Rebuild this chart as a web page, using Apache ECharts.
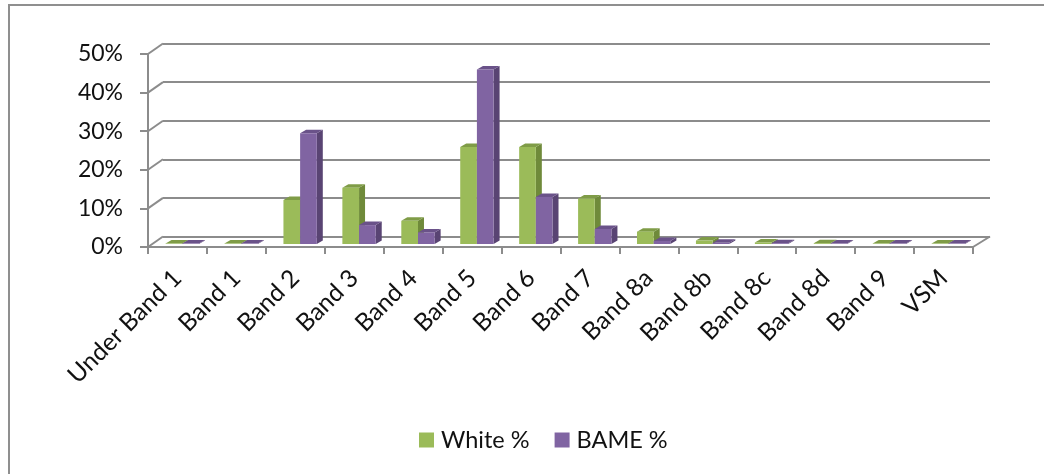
<!DOCTYPE html>
<html>
<head>
<meta charset="utf-8">
<title>Staff by band: White % and BAME %</title>
<script src="https://cdn.jsdelivr.net/npm/echarts@6/dist/echarts.min.js"></script>
<style>
  html, body { margin: 0; padding: 0; background: #ffffff; }
  #chart { width: 1044px; height: 474px; }
</style>
</head>
<body>
<div id="chart"></div>
<script>
// Pay bands and the share of each group in them (%)
const categories = ['Under Band 1', 'Band 1', 'Band 2', 'Band 3', 'Band 4', 'Band 5', 'Band 6',
  'Band 7', 'Band 8a', 'Band 8b', 'Band 8c', 'Band 8d', 'Band 9', 'VSM'];
const whitePct = [0.1, 0.1, 11.4, 14.6, 6.0, 25.1, 25.1, 11.8, 3.2, 0.9, 0.4, 0.2, 0.1, 0.1];
const bamePct  = [0.1, 0.1, 28.7, 4.9, 3.0, 45.2, 12.2, 3.9, 0.8, 0.3, 0.2, 0.1, 0.1, 0.1];
const yTicks = [0, 10, 20, 30, 40, 50];
const seriesNames = ['White %', 'BAME %'];

const FONT = 'Lato';
const LINE = '#8c8c8c';

// Oblique depth of the floor and back wall
const WALL_DX_L = 15, WALL_DX_R = 17, WALL_DY = -10.5;
// Where the bar fronts sit inside that depth, and the bars' own depth
const BAR_DX = 4.8, BAR_DY = -3;
const DEPTH_X = 6, DEPTH_Y = -3.5;

const palette = {
  white: { front: '#9bbb59', side: '#6f8a3a', top: '#7f9c47' },
  bame:  { front: '#8064a2', side: '#594473', top: '#6a5289' }
};

function bar3d(leftOfCentre, c) {
  return function (params, api) {
    const idx = api.value(0);
    const v = api.value(1);
    const base = api.coord([idx, 0]);
    const head = api.coord([idx, v]);
    const w = api.size([1, 0])[0] * 0.283;
    const x0 = base[0] + BAR_DX - (leftOfCentre ? w : 0);
    const x1 = x0 + w;
    const yb = base[1] + BAR_DY;
    const yt = head[1] + BAR_DY;
    return {
      type: 'group',
      children: [
        { type: 'polygon',
          shape: { points: [[x1, yb], [x1 + DEPTH_X, yb + DEPTH_Y], [x1 + DEPTH_X, yt + DEPTH_Y], [x1, yt]] },
          style: { fill: c.side } },
        { type: 'polygon',
          shape: { points: [[x0, yt], [x1, yt], [x1 + DEPTH_X, yt + DEPTH_Y], [x0 + DEPTH_X, yt + DEPTH_Y]] },
          style: { fill: c.top } },
        { type: 'rect',
          shape: { x: x0, y: yt, width: w, height: yb - yt },
          style: { fill: c.front } }
      ]
    };
  };
}

// Diagonals joining the front value axis to the back-wall gridlines
function wallEdges(params, api) {
  const v = api.value(1);
  const y = api.coord([0, v])[1];
  const cs = params.coordSys;
  const children = [{
    type: 'line',
    shape: { x1: cs.x, y1: y, x2: cs.x + WALL_DX_L, y2: y + WALL_DY },
    style: { stroke: LINE, lineWidth: 2 }
  }];
  if (v === 0) {
    children.push({
      type: 'line',
      shape: { x1: cs.x + cs.width, y1: y, x2: cs.x + cs.width + WALL_DX_R, y2: y + WALL_DY },
      style: { stroke: LINE, lineWidth: 2 }
    });
  }
  return { type: 'group', children: children };
}

const chart = echarts.init(document.getElementById('chart'), null, { renderer: 'canvas' });

chart.setOption({
  animation: false,
  backgroundColor: '#ffffff',
  graphic: [{
    type: 'rect', x: 9, y: 5, silent: true, z: -10,
    shape: { width: 1100, height: 600 },
    style: { fill: 'none', stroke: '#8f8f8f', lineWidth: 2 }
  }],
  legend: {
    data: seriesNames,
    left: 414,
    top: 423,
    icon: 'rect',
    itemWidth: 15,
    itemHeight: 15,
    itemGap: 25,
    textStyle: { fontFamily: FONT, fontSize: 23.5, color: '#111111', padding: [0, 0, 0, 2] }
  },
  grid: [
    { left: 148, top: 54, width: 825, height: 193 },       // front plane
    { left: 163, top: 43.5, width: 827, height: 193 }      // back wall
  ],
  xAxis: [
    {
      type: 'category', gridIndex: 0, data: categories, boundaryGap: true,
      axisLine: { show: true, lineStyle: { color: LINE, width: 2 } },
      axisTick: { show: true, interval: 0, length: 7, lineStyle: { color: LINE, width: 2 } },
      axisLabel: {
        interval: 0, rotate: 45, margin: 27,
        fontFamily: FONT, fontSize: 24.5, color: '#111111'
      },
      splitLine: { show: false }
    },
    {
      type: 'category', gridIndex: 1, data: categories, show: false
    }
  ],
  yAxis: [
    {
      type: 'value', gridIndex: 0, min: 0, max: 50, interval: 10,
      axisLine: { show: true, lineStyle: { color: LINE, width: 2 } },
      axisTick: { show: true, length: 8, lineStyle: { color: LINE, width: 2 } },
      axisLabel: {
        margin: 25, formatter: '{value}%',
        fontFamily: FONT, fontSize: 23, color: '#111111'
      },
      splitLine: { show: false }
    },
    {
      type: 'value', gridIndex: 1, min: 0, max: 50, interval: 10,
      axisLine: { show: false }, axisTick: { show: false }, axisLabel: { show: false },
      splitLine: { show: true, lineStyle: { color: LINE, width: 2 } }
    }
  ],
  series: [
    {
      type: 'custom', name: 'wall', xAxisIndex: 0, yAxisIndex: 0, silent: true, z: 1,
      renderItem: wallEdges,
      data: yTicks.map(function (v) { return [0, v]; })
    },
    {
      type: 'custom', name: seriesNames[0], xAxisIndex: 0, yAxisIndex: 0, z: 3,
      itemStyle: { color: palette.white.front },
      renderItem: bar3d(true, palette.white),
      data: whitePct.map(function (v, i) { return [i, v]; })
    },
    {
      type: 'custom', name: seriesNames[1], xAxisIndex: 0, yAxisIndex: 0, z: 4,
      itemStyle: { color: palette.bame.front },
      renderItem: bar3d(false, palette.bame),
      data: bamePct.map(function (v, i) { return [i, v]; })
    }
  ]
});
</script>
</body>
</html>
